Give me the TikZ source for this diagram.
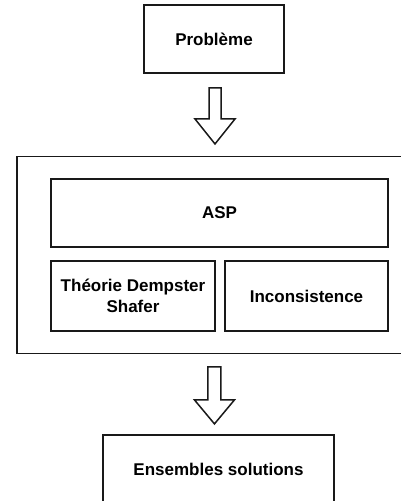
\documentclass[tikz,border=0pt]{standalone}
\usepackage{fontspec}
\setmainfont{Liberation Sans}
\usetikzlibrary{calc}
\begin{document}
\begin{tikzpicture}[x=1pt,y=-1pt,
  box/.style={draw=black!90,line width=1.9pt,fill=white,inner sep=0pt,align=center,
    font=\fontsize{17}{21}\selectfont\bfseries},
  lbl/.style={font=\fontsize{17}{21}\selectfont\bfseries},
  blockarrow/.style={draw=black!90,line width=1.5pt,fill=white,line join=miter}]
\useasboundingbox (0,0) rectangle (401,501);
\clip (0,0) rectangle (401,501);
% outer frame
\node[box,minimum width=400pt,minimum height=197pt,anchor=north west] (frame) at (16,155.5) {};
\node[box,minimum width=140pt,minimum height=68pt] (prob) at (214,39) {Problème};
\node[box,minimum width=337pt,minimum height=68pt] (asp) at (219.5,213) {ASP};
\node[box,minimum width=164pt,minimum height=70pt] (dst) at (133,296) {Théorie Dempster\\Shafer};
\node[box,minimum width=163pt,minimum height=70pt] (inc) at (306.5,296) {Inconsistence};
\node[box,minimum width=231pt,minimum height=80pt,anchor=north] (ens) at (218.5,434) {};
\node[lbl] (enstext) at (218.5,469) {Ensembles solutions};
% block arrows
\coordinate (a1) at ($(prob.south)+(1,14)$);
\draw[blockarrow] (a1) ++(-6,0) -- ++(12,0) -- ++(0,31) -- ++(14,0) -- ++(-20,25)
  -- ++(-20,-25) -- ++(14,0) -- cycle;
\coordinate (a2) at ($(frame.south)+(-2.5,12.5)$);
\draw[blockarrow] (a2) ++(-6.5,0) -- ++(13,0) -- ++(0,33) -- ++(13.5,0) -- ++(-20,24)
  -- ++(-20,-24) -- ++(13.5,0) -- cycle;
\end{tikzpicture}
\end{document}
